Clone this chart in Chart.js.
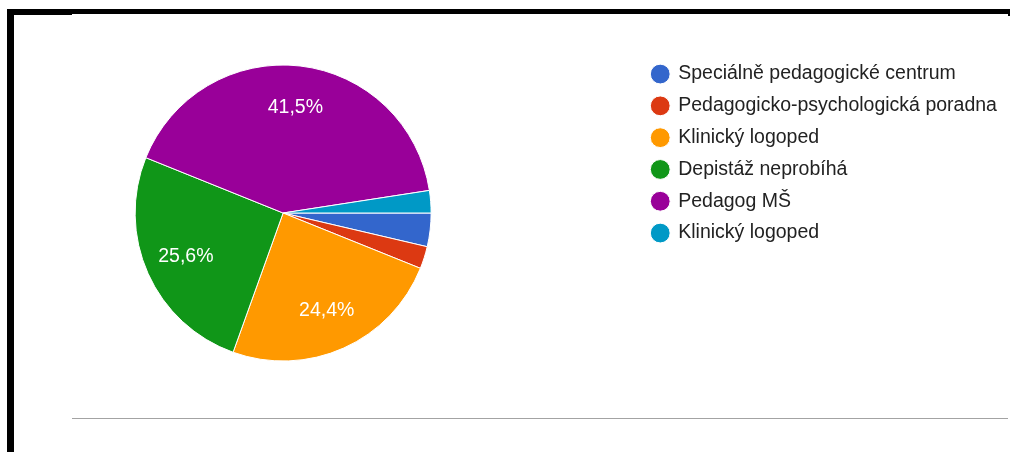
<!DOCTYPE html>
<html>
<head>
<meta charset="utf-8">
<script src="https://cdn.jsdelivr.net/npm/chart.js@4/dist/chart.umd.min.js"></script>
<style>
  html, body { margin: 0; padding: 0; background: #fff; }
  body { width: 1011px; height: 452px; position: relative; overflow: hidden; }
  /* canvas shifted left so the legend can sit far right of the pie */
  #wrap { position: absolute; left: -74px; top: 0; width: 1085px; height: 452px; }
  .bar { position: absolute; background: #000; z-index: 2; }
  .rule { position: absolute; background: #a3a3a3; }
</style>
</head>
<body>
<div id="wrap"><canvas id="chart1"></canvas></div>
<div class="bar" style="left:7px;top:9px;width:1003px;height:5px"></div>
<div class="bar" style="left:7px;top:9px;width:65px;height:6px"></div>
<div class="bar" style="left:1008px;top:9px;width:2px;height:7px"></div>
<div class="bar" style="left:7px;top:9px;width:7px;height:443px"></div>
<div class="rule" style="left:72px;top:418px;width:936px;height:1px"></div>
<script>
var labels = [
    'Speciálně pedagogické centrum',
    'Pedagogicko-psychologická poradna',
    'Klinický logoped',
    'Depistáž neprobíhá',
    'Pedagog MŠ',
    'Klinický logoped'
]
var counts = [3, 2, 20, 21, 34, 2]
var colors = ['#3366cc', '#dc3912', '#ff9900', '#109618', '#990099', '#0099c6']

var fontFamily = '"Liberation Sans", Arial, Helvetica, sans-serif'

function percentText(v, total) {
    return (v / total * 100).toFixed(1).replace('.', ',') + '%'
}

// white percentage text inside the larger slices
var sliceLabels = {
    id: 'sliceLabels',
    afterDatasetsDraw: function (chart) {
        var ctx = chart.ctx
        var meta = chart.getDatasetMeta(0)
        var data = chart.data.datasets[0].data
        var total = 0
        for (var i = 0; i < data.length; i++) total += data[i]
        ctx.save()
        ctx.fillStyle = '#ffffff'
        ctx.font = '19.5px ' + fontFamily
        ctx.textAlign = 'center'
        ctx.textBaseline = 'middle'
        for (var i = 0; i < meta.data.length; i++) {
            if (data[i] / total < 0.05) continue
            var arc = meta.data[i]
            var mid = (arc.startAngle + arc.endAngle) / 2
            var r = arc.outerRadius * 0.72
            ctx.fillText(percentText(data[i], total), arc.x + Math.cos(mid) * r, arc.y + Math.sin(mid) * r)
        }
        ctx.restore()
    }
}

var ctx = document.getElementById('chart1')
var chart1 = new Chart(ctx, {
    type: 'pie',
    data: {
        labels: labels,
        datasets: [{
            data: counts,
            backgroundColor: colors,
            borderColor: '#ffffff',
            borderWidth: 1,
            radius: 148
        }]
    },
    options: {
        responsive: true,
        maintainAspectRatio: false,
        animation: false,
        rotation: 90,
        layout: {
            padding: { left: 0.55, right: 4.05, top: 52, bottom: 78 }
        },
        plugins: {
            tooltip: { enabled: false },
            legend: {
                position: 'right',
                align: 'start',
                labels: {
                    usePointStyle: true,
                    pointStyle: 'circle',
                    boxWidth: 16.5,
                    boxHeight: 14,
                    padding: 12.3,
                    color: '#222222',
                    font: { family: fontFamily, size: 19.5 }
                }
            }
        }
    },
    plugins: [sliceLabels]
})
</script>
</body>
</html>
